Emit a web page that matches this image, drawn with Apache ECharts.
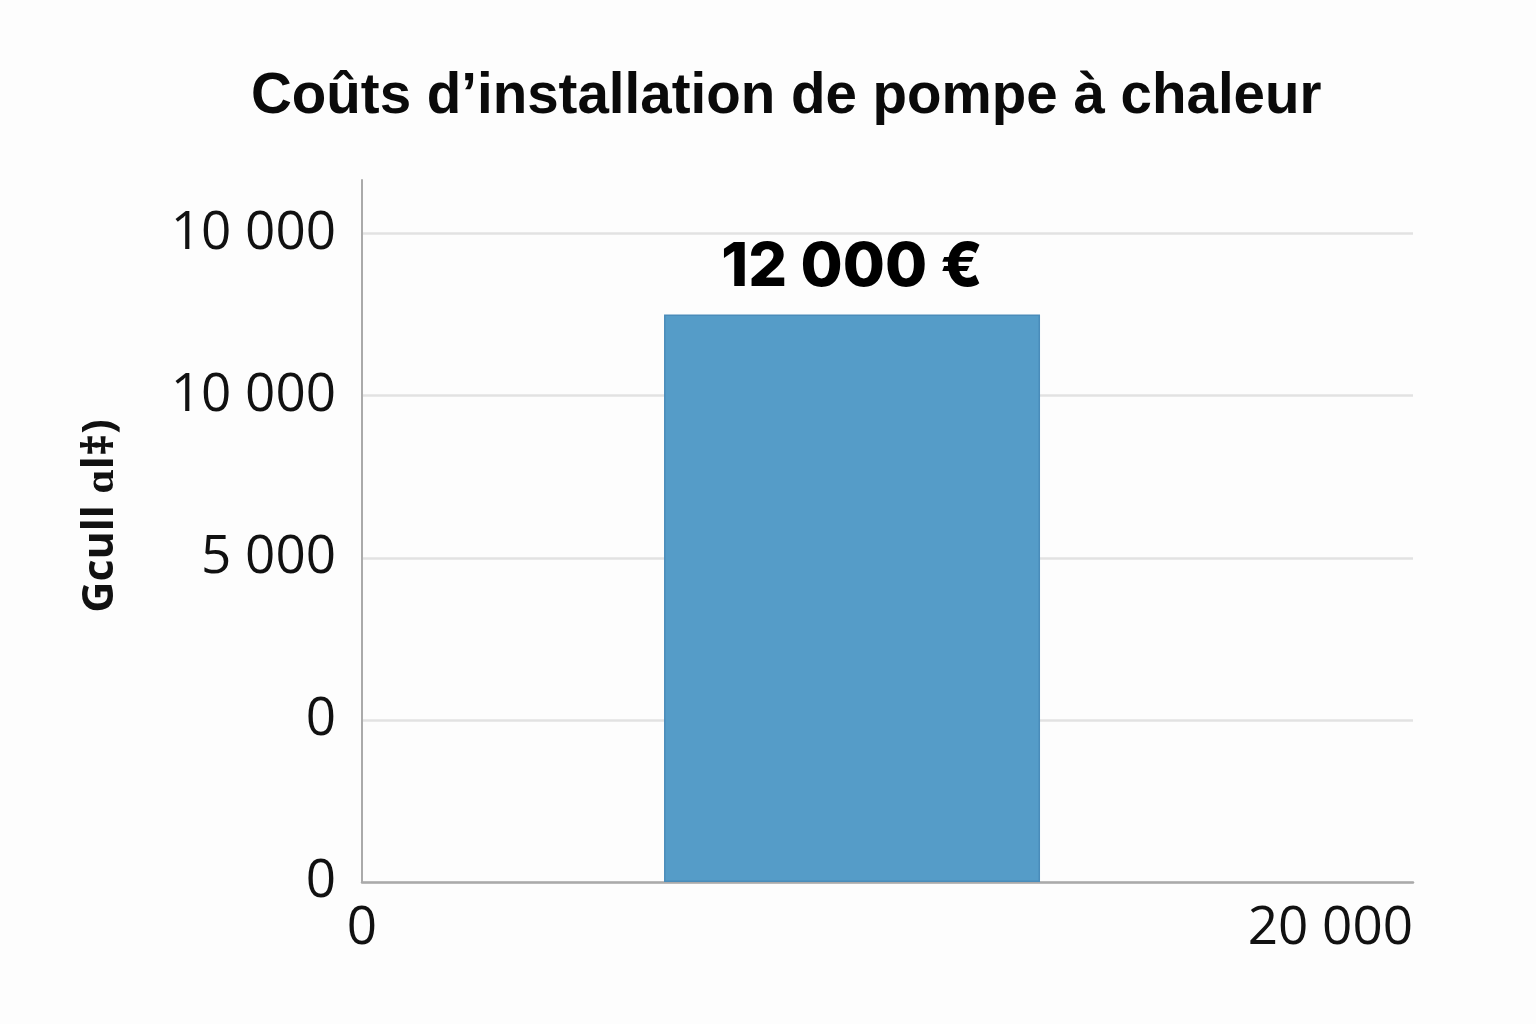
<!DOCTYPE html>
<html lang="fr">
<head>
<meta charset="UTF-8" />
<title>Coûts d’installation de pompe à chaleur</title>
<style>
  html, body { margin: 0; padding: 0; background: #fdfdfd; }
  #chart { width: 1536px; height: 1024px; }
</style>
</head>
<body>
<div id="chart"></div>
<script src="https://cdn.jsdelivr.net/npm/echarts@6/dist/echarts.min.js"></script>
<script>
  // Données
  const yTickLabels = ['0', '0', '5 000', '10 000', '10 000'];
  const xTickLabels = { 0: '0', 20000: '20 000' };
  const barX = [9325];          // position du centre de la barre sur l'axe x
  const barValues = [3.5];      // hauteur en pas de graduation
  const barLabels = ['12 000 €'];

  const chart = echarts.init(document.getElementById('chart'));

  const option = {
    backgroundColor: '#fdfdfd',
    animation: false,
    title: {
      text: 'Coûts d’installation de pompe à chaleur',
      left: 246,
      top: 64,
      textStyle: {
        fontFamily: 'Liberation Sans',
        fontWeight: 'bold',
        fontSize: 56.5,
        color: '#0a0a0a'
      }
    },
    grid: { left: 362, right: 123, top: 180, bottom: 142 },
    xAxis: {
      type: 'value',
      min: 0,
      max: 20000,
      interval: 20000,
      axisLine: { show: true, lineStyle: { color: '#aaaaaa', width: 2.5 } },
      axisTick: { show: false },
      splitLine: { show: false },
      axisLabel: {
        margin: 20,
        fontFamily: 'Open Sans',
        fontSize: 53,
        color: '#111',
        alignMaxLabel: 'right',
        formatter: v => xTickLabels[v] ?? ''
      }
    },
    yAxis: {
      type: 'value',
      min: 0,
      max: 4.33,
      interval: 1,
      name: 'Gcull ɑl‡)',
      nameLocation: 'middle',
      nameGap: 240,
      nameTextStyle: {
        fontFamily: 'Open Sans',
        fontWeight: 'bold',
        fontSize: 43,
        color: '#111',
        padding: [0, 0, 0, 30]
      },
      axisLine: { show: true, lineStyle: { color: '#aaaaaa', width: 2 } },
      axisTick: { show: false },
      splitLine: {
        show: true,
        showMaxLine: false,
        lineStyle: { color: '#e2e2e2', width: 2.5 }
      },
      axisLabel: {
        margin: 26,
        showMaxLabel: false,
        fontFamily: 'Open Sans',
        fontSize: 53,
        color: '#111',
        formatter: v => (Number.isInteger(v) ? yTickLabels[v] : '')
      }
    },
    series: [
      {
        type: 'bar',
        barWidth: 376,
        data: barX.map((x, i) => [x, barValues[i]]),
        itemStyle: {
          color: '#559cc8',
          borderColor: '#4a8cba',
          borderWidth: 1.5
        },
        label: {
          show: true,
          position: 'top',
          distance: 16,
          fontFamily: 'Inter',
          fontWeight: 800,
          fontSize: 61,
          color: '#000',
          formatter: p => barLabels[p.dataIndex]
        }
      }
    ]
  };

  chart.setOption(option);
</script>
</body>
</html>
